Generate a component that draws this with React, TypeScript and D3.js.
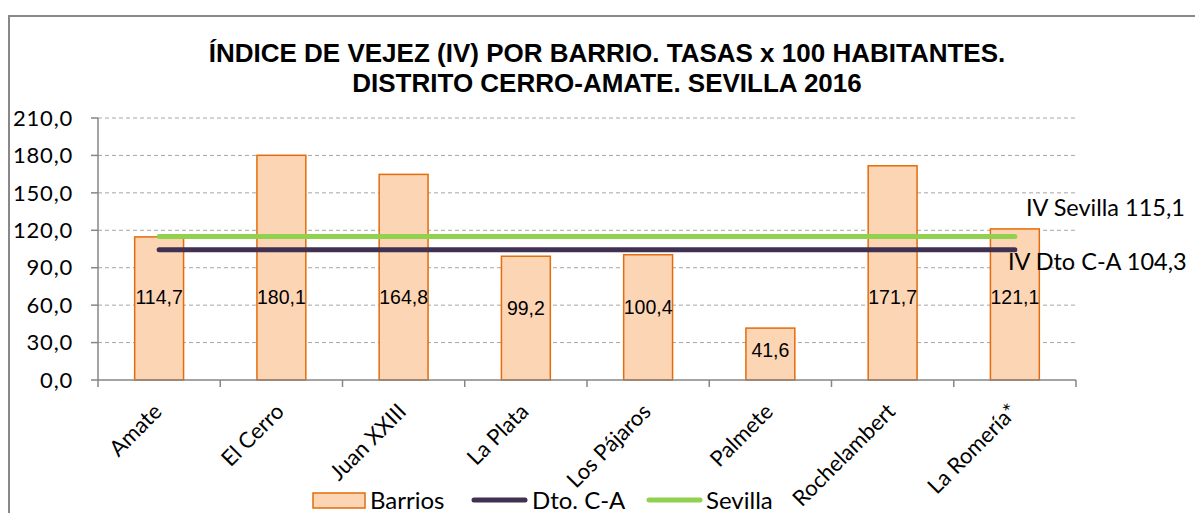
import React from "react";
import * as d3 from "d3";

const categories = ["Amate", "El Cerro", "Juan XXIII", "La Plata", "Los Pájaros", "Palmete", "Rochelambert", "La Romería*"];
const barrios = [114.7, 180.1, 164.8, 99.2, 100.4, 41.6, 171.7, 121.1];
const dtoCA = 104.3;
const sevilla = 115.1;
const yTicks = [0, 30, 60, 90, 120, 150, 180, 210];
const titleLines = ["ÍNDICE DE VEJEZ (IV) POR BARRIO. TASAS x 100 HABITANTES.", "DISTRITO CERRO-AMATE. SEVILLA 2016"];
const legendItems = ["Barrios", "Dto. C-A", "Sevilla"];

const fmt = (v: number) => v.toFixed(1).replace(".", ",");

export default function App() {
  const W = 1195, H = 513;
  const left = 98, right = 1076, top = 118, bottom = 380;
  const x = d3.scaleBand<string>().domain(categories).range([left, right]).paddingInner(0.6).paddingOuter(0.3);
  const y = d3.scaleLinear().domain([0, 210]).range([bottom, top]);
  const step = x.step();
  const bw = x.bandwidth();
  const cx = (c: string) => (x(c) as number) + bw / 2;
  const lineGen = d3.line<[number, number]>().x(d => d[0]).y(d => d[1]);
  const lineFor = (v: number) => lineGen([[cx(categories[0]), y(v)], [cx(categories[categories.length - 1]), y(v)]]) as string;
  const sideFont = "Lato, 'Open Sans', sans-serif";
  const orange = "#E46C0A";
  const fillC = "#FCD5B5";
  const dark = "#403152";
  const green = "#92D050";

  return (
    <svg width={W} height={H} style={{ position: "absolute", left: 0, top: 0, background: "#fff" }}>
      <rect x={0} y={0} width={W} height={H} fill="#fff" />
      {/* chart border */}
      <path d={`M9,${H + 5} L9,16 L${W + 5},16`} fill="none" stroke="#888" strokeWidth={2} />
      {/* title */}
      {titleLines.map((t, i) => (
        <text key={i} x={607} y={62 + i * 30} textAnchor="middle" fontFamily="'Liberation Sans', Arial, sans-serif" fontWeight="bold" fontSize={26} fill="#000">{t}</text>
      ))}
      {/* gridlines */}
      {yTicks.filter(t => t > 0).map(t => (
        <line key={t} x1={left} x2={right} y1={y(t)} y2={y(t)} stroke="#A6A6A6" strokeWidth={1} strokeDasharray="4,3" />
      ))}
      {/* bars */}
      {categories.map((c, i) => (
        <rect key={c} x={x(c)} y={y(barrios[i])} width={bw} height={bottom - y(barrios[i])} fill={fillC} stroke={orange} strokeWidth={1.5} />
      ))}
      {/* lines */}
      <path d={lineFor(sevilla)} stroke={green} strokeWidth={5} strokeLinecap="round" fill="none" />
      <path d={lineFor(dtoCA)} stroke={dark} strokeWidth={5} strokeLinecap="round" fill="none" />
      {/* y axis */}
      <line x1={left} x2={left} y1={top} y2={bottom} stroke="#868686" strokeWidth={1.5} />
      {yTicks.map(t => (
        <g key={t}>
          <line x1={left - 7} x2={left} y1={y(t)} y2={y(t)} stroke="#868686" strokeWidth={1.5} />
          <text x={73} y={y(t)} dy="0.35em" textAnchor="end" fontFamily={sideFont} fontSize={22} letterSpacing={0.8} fill="#000">{fmt(t)}</text>
        </g>
      ))}
      {/* x axis */}
      <line x1={left} x2={right} y1={bottom} y2={bottom} stroke="#868686" strokeWidth={1.5} />
      {d3.range(categories.length + 1).map(i => (
        <line key={i} x1={left + i * step} x2={left + i * step} y1={bottom} y2={bottom + 7} stroke="#868686" strokeWidth={1.5} />
      ))}
      {categories.map(c => (
        <text key={c} transform={`translate(${cx(c) + 4},${bottom + 33}) rotate(-45)`} textAnchor="end" fontFamily={sideFont} fontSize={22} fill="#000">{c}</text>
      ))}
      {/* value labels */}
      {categories.map((c, i) => (
        <text key={c} x={cx(c)} y={y(Math.min(barrios[i] * 0.58, 66))} dy="0.35em" textAnchor="middle" fontFamily="'Liberation Sans', Arial, sans-serif" fontSize={19.5} fill="#000">{fmt(barrios[i])}</text>
      ))}
      {/* annotations */}
      <text x={1026} y={y(sevilla) - 29} dy="0.35em" fontFamily={sideFont} fontSize={23.5} fill="#000">{`IV Sevilla ${fmt(sevilla)}`}</text>
      <text x={1008} y={y(dtoCA) + 12} dy="0.35em" fontFamily={sideFont} fontSize={23.5} fill="#000">{`IV Dto C-A ${fmt(dtoCA)}`}</text>
      {/* legend */}
      <g>
        <rect x={313} y={493} width={52} height={15} fill={fillC} stroke={orange} strokeWidth={1.5} />
        <text x={370} y={501} dy="0.35em" fontFamily={sideFont} fontSize={24} fill="#000">{legendItems[0]}</text>
        <line x1={474} x2={525} y1={500} y2={500} stroke={dark} strokeWidth={5} strokeLinecap="round" />
        <text x={532} y={501} dy="0.35em" fontFamily={sideFont} fontSize={24} fill="#000">{legendItems[1]}</text>
        <line x1={649} x2={700} y1={500} y2={500} stroke={green} strokeWidth={5} strokeLinecap="round" />
        <text x={706} y={501} dy="0.35em" fontFamily={sideFont} fontSize={24} fill="#000">{legendItems[2]}</text>
      </g>
    </svg>
  );
}
